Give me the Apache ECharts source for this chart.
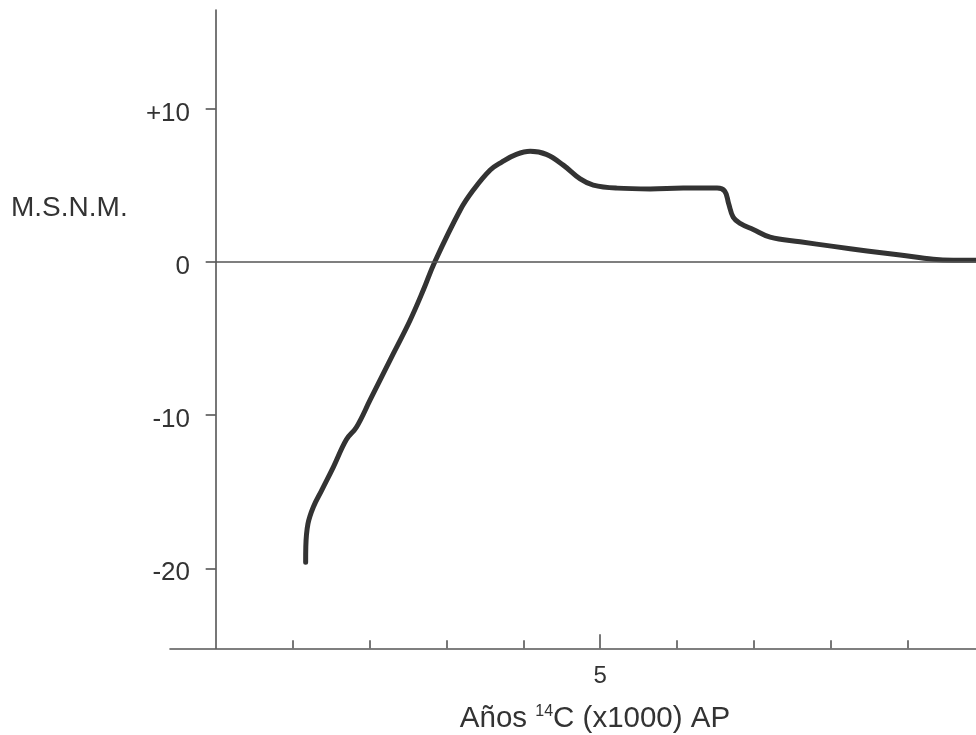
<!DOCTYPE html>
<html>
<head>
<meta charset="utf-8">
<script src="https://cdn.jsdelivr.net/npm/echarts@6/dist/echarts.min.js"></script>
<style>html,body{margin:0;padding:0;background:#fff}#c{width:976px;height:735px}</style>
</head>
<body>
<div id="c"></div>
<script>
// Ages (x1000 years 14C BP)
const ages = [1.170, 1.172, 1.20, 1.27, 1.38, 1.53, 1.70, 1.83, 2.01, 2.31, 2.53, 2.70, 2.85, 3.18, 3.35, 3.57, 3.72, 3.91, 4.09, 4.30, 4.52, 4.74, 4.91, 5.22, 5.65, 6.08, 6.52, 6.62, 6.67, 6.73, 6.82, 6.99, 7.21, 7.60, 8.03, 8.47, 8.90, 9.33, 9.59, 9.89];
// Sea level (m above mean sea level)
const levels = [-19.6, -18.6, -17.1, -16.0, -14.9, -13.4, -11.6, -10.8, -9.0, -6.0, -3.8, -1.85, 0.0, 3.37, 4.67, 5.98, 6.5, 7.0, 7.2, 7.0, 6.3, 5.4, 5.0, 4.8, 4.75, 4.8, 4.8, 4.6, 3.8, 2.9, 2.5, 2.1, 1.6, 1.3, 1.0, 0.7, 0.44, 0.16, 0.1, 0.1];
const yTicks = [10, 0, -10, -20];
const xMinorTicks = [1, 2, 3, 4, 6, 7, 8, 9];
const xMajorTicks = [5];

const X_MIN = -0.594, X_MAX = 9.887, Y_MIN = -25.22, Y_MAX = 16.42;
const axisColor = '#555';
const textColor = '#333';
const FONT = 'Liberation Sans, Arial, sans-serif';

const chart = echarts.init(document.getElementById('c'), null, {renderer: 'canvas'});
chart.setOption({
  backgroundColor: '#fff',
  animation: false,
  grid: {left: 170, right: 0, top: 10, bottom: 86.7, containLabel: false},
  xAxis: [{
    type: 'value', min: X_MIN, max: X_MAX, position: 'bottom',
    axisLine: {show: true, onZero: false, lineStyle: {color: axisColor, width: 1.6}},
    axisTick: {show: true, inside: true, length: 8, customValues: xMinorTicks, lineStyle: {color: axisColor, width: 1.6}},
    axisLabel: {show: false},
    splitLine: {show: false}
  }, {
    type: 'value', min: X_MIN, max: X_MAX, position: 'bottom',
    axisLine: {show: false, onZero: false},
    axisTick: {show: true, inside: true, length: 14, customValues: xMajorTicks, lineStyle: {color: axisColor, width: 1.6}},
    axisLabel: {show: true, customValues: xMajorTicks, margin: 16, fontSize: 24, color: textColor, fontFamily: FONT},
    splitLine: {show: false}
  }],
  yAxis: {
    type: 'value', min: Y_MIN, max: Y_MAX,
    axisLine: {show: true, onZero: true, lineStyle: {color: axisColor, width: 1.6}},
    axisTick: {show: true, inside: false, length: 10, customValues: yTicks, lineStyle: {color: axisColor, width: 1.6}},
    axisLabel: {
      show: true, customValues: yTicks, margin: -20, fontSize: 26, color: textColor,
      fontFamily: FONT, verticalAlign: 'top', lineHeight: 10,
      formatter: v => (v > 0 ? '+' + v : String(v))
    },
    splitLine: {show: false}
  },
  series: [{
    type: 'line',
    xAxisIndex: 0,
    data: ages.map((a, i) => [a, levels[i]]),
    showSymbol: false, symbol: 'none',
    smooth: 0.4,
    lineStyle: {color: '#333', width: 5, cap: 'round', join: 'round'},
    markLine: {
      silent: true, symbol: 'none', label: {show: false},
      lineStyle: {color: axisColor, width: 1.6, type: 'solid'},
      data: [[{coord: [0, 0]}, {coord: [X_MAX, 0]}]]
    }
  }],
  graphic: [{
    type: 'text', left: 11, top: 194,
    style: {text: 'M.S.N.M.', fontSize: 28, fill: textColor, fontFamily: FONT}
  }, {
    type: 'text', x: 595, y: 719,
    style: {
      text: '{a|Años }{s|14}{a|C (x1000) AP}',
      align: 'center', verticalAlign: 'middle',
      rich: {
        a: {fontSize: 29.5, fill: textColor, fontFamily: FONT},
        s: {fontSize: 16, fill: textColor, fontFamily: FONT, verticalAlign: 'top'}
      }
    }
  }]
});
</script>
</body>
</html>
